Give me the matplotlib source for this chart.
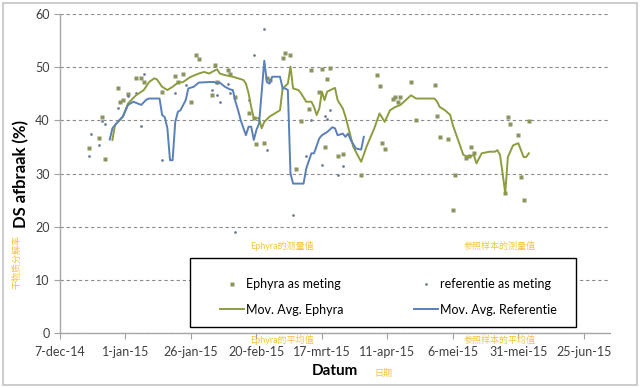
import matplotlib
matplotlib.use("Agg")
import matplotlib.pyplot as plt
import matplotlib.patches as mpatches
import pandas as pd

plt.rcParams['font.family'] = ['Lato', 'Noto Sans CJK SC', 'DejaVu Sans']

# day offsets from 7-dec-14, values in %
start = pd.Timestamp('2014-12-07')

eph_ma_day = [20, 21, 24, 26, 29, 32, 34, 36, 37, 39, 41, 43, 45, 47, 49, 50, 53, 55, 57, 58,
              60, 61, 63, 66, 68, 70, 71, 72, 73, 74, 76, 77, 78, 80, 82, 84, 85, 87, 88, 89,
              91, 92, 94, 96, 97, 98, 99, 100, 101, 102, 105, 106, 108, 109, 110, 112, 114, 115,
              117, 120, 122, 124, 126, 128, 130, 132, 134, 136, 138, 143, 144, 145, 147, 149,
              150, 152, 154, 156, 158, 159, 161, 164, 166, 167, 168, 169, 170, 171, 173, 175,
              176, 177, 178, 179]
eph_ma_val = [36.3, 39.1, 40.7, 43.2, 44.7, 45.7, 47.2, 47.9, 47.7, 46.3, 45.7, 46.3, 47.1, 47.2,
              47.9, 48.2, 48.8, 49.1, 48.8, 49.1, 49.6, 48.8, 48.5, 48.2, 47.9, 47.6, 46.9, 45.1,
              42.5, 40.4, 40.4, 38.5, 39.7, 40.7, 41.3, 41.9, 46.0, 46.9, 50.1, 46.0, 45.7, 45.1,
              43.5, 43.5, 42.5, 41.0, 42.2, 45.4, 43.8, 45.4, 46.1, 43.8, 42.2, 40.7, 38.8, 35.0,
              33.1, 32.2, 35.0, 38.5, 41.3, 39.7, 41.9, 42.5, 42.9, 43.8, 44.7, 44.1, 44.1, 44.1,
              43.5, 42.5, 41.9, 41.0, 39.1, 36.3, 33.5, 33.1, 33.5, 31.9, 33.8, 34.1, 34.1, 34.4,
              33.5, 30.0, 26.3, 33.1, 35.3, 35.7, 34.4, 33.1, 33.1, 33.8]

ref_ma_day = [19, 20, 22, 24, 26, 28, 31, 33, 34, 38, 39, 40, 41, 42, 43, 44, 45, 46, 48, 49,
              51, 53, 57, 59, 60, 61, 63, 65, 66, 67, 68, 69, 71, 72, 73, 74, 75, 76, 78, 79,
              80, 81, 84, 85, 86, 87, 88, 89, 93, 94, 96, 97, 99, 100, 102, 104, 105, 106, 108,
              109, 110, 111, 113, 115, 116]
ref_ma_val = [36.4, 38.5, 39.7, 40.7, 42.9, 43.5, 42.9, 43.9, 44.1, 44.1, 41.0, 40.6, 38.5, 32.5,
              32.5, 39.7, 41.6, 41.9, 43.8, 46.0, 46.3, 47.1, 47.2, 47.2, 46.9, 47.1, 46.3, 45.8,
              45.7, 43.5, 41.9, 40.0, 37.2, 38.8, 38.8, 36.3, 38.2, 39.4, 51.2, 47.2, 46.9, 48.2,
              48.2, 46.0, 46.0, 45.7, 30.0, 28.1, 28.1, 30.9, 33.8, 33.8, 36.6, 37.2, 37.8, 38.7,
              38.5, 37.2, 37.5, 36.9, 37.5, 36.3, 34.7, 34.5, 36.9]

eph_pt_day = [11, 15, 16, 17, 22, 23, 24, 26, 29, 31, 32, 39, 44, 45, 47, 50, 52, 53, 58, 59,
              60, 64, 65, 67, 72, 74, 75, 78, 79, 80, 85, 86, 88, 90, 92, 95, 96, 99, 100, 101,
              102, 103, 106, 108, 115, 121, 122, 123, 124, 127, 128, 129, 130, 134, 136, 143,
              144, 145, 148, 150, 151, 155, 156, 157, 158, 170, 171, 172, 175, 176, 177, 179]
eph_pt_val = [34.8, 36.7, 40.7, 32.8, 46.1, 43.5, 43.8, 44.9, 48.0, 48.0, 47.3, 45.4, 48.4, 47.3,
              48.8, 43.5, 52.3, 51.6, 44.7, 50.4, 47.2, 49.4, 48.8, 44.3, 41.3, 40.5, 35.5, 35.8,
              47.9, 47.6, 51.8, 52.6, 52.3, 30.9, 39.8, 42.2, 49.4, 45.4, 49.6, 34.9, 47.7, 49.9,
              33.3, 33.6, 29.8, 48.5, 46.4, 35.8, 34.7, 44.0, 44.4, 43.5, 44.4, 47.2, 40.0, 46.6,
              40.8, 36.8, 36.5, 23.2, 29.8, 33.0, 33.3, 34.9, 33.9, 26.3, 40.7, 39.3, 37.2, 29.4,
              25.0, 39.8]

ref_pt_day = [11, 12, 15, 16, 17, 22, 26, 29, 31, 32, 39, 44, 48, 58, 60, 61, 64, 65, 67, 72,
              74, 78, 79, 89, 94, 96, 100, 101, 102, 103, 106, 108]
ref_pt_val = [33.2, 37.4, 35.3, 39.9, 39.3, 42.3, 44.6, 45.1, 38.9, 48.8, 32.5, 45.2, 46.7, 45.7,
              44.7, 43.5, 46.9, 45.1, 19.0, 43.8, 52.3, 57.2, 34.5, 22.2, 33.3, 40.0, 31.6, 40.8,
              40.3, 41.9, 29.8, 31.4]

tick_dates = ['2014-12-07', '2015-01-01', '2015-01-26', '2015-02-20', '2015-03-17',
              '2015-04-11', '2015-05-06', '2015-05-31', '2015-06-25']
tick_labels = ['7-dec-14', '1-jan-15', '26-jan-15', '20-feb-15', '17-mrt-15',
               '11-apr-15', '6-mei-15', '31-mei-15', '25-jun-15']
y_ticks = [0, 10, 20, 30, 40, 50, 60]


def to_dates(days):
    return start + pd.to_timedelta(days, unit='D')


fig = plt.figure(figsize=(6.4, 3.88), dpi=100)
ax = fig.add_axes([60 / 640, 55 / 388, 550 / 640, 319 / 388])

green = '#8f9b3f'
blue = '#5a80b8'

p1, = ax.plot(to_dates(eph_pt_day), eph_pt_val, ls='none', marker='s', ms=2.6,
              color='#8a9560', mec='none', label='Ephyra as meting')
p3, = ax.plot(to_dates(ref_pt_day), ref_pt_val, ls='none', marker='o', ms=2.0,
              color='#6c7f98', mec='none', label='referentie as meting')
p2, = ax.plot(to_dates(eph_ma_day), eph_ma_val, color=green, lw=1.4, label='Mov. Avg. Ephyra')
p4, = ax.plot(to_dates(ref_ma_day), ref_ma_val, color=blue, lw=1.4, label='Mov. Avg. Referentie')

ax.set_xlim(start, start + pd.Timedelta(days=210))
ax.set_ylim(0, 60)
ax.set_xticks(pd.to_datetime(tick_dates))
ax.set_xticklabels(tick_labels)
ax.set_yticks(y_ticks)
ax.tick_params(axis='both', labelsize=9, colors='#404040', length=4, width=0.8, direction='out')
ax.tick_params(axis='both', color='#a0a0a0')
ax.tick_params(axis='x', pad=5)

for s in ['top', 'right']:
    ax.spines[s].set_visible(False)
for s in ['left', 'bottom']:
    ax.spines[s].set_color('#a6a6a6')
    ax.spines[s].set_linewidth(1.0)

ax.yaxis.grid(True, color='#8c8c8c', lw=0.8, ls=(0, (3, 2.5)))
ax.set_axisbelow(True)

ax.set_ylabel('DS afbraak (%)', fontsize=12, fontweight='bold')
ax.yaxis.set_label_coords(-0.056, 0.5)
ax.set_xlabel('Datum', fontsize=11, fontweight='bold')
ax.xaxis.set_label_coords(0.5, -0.098)

# legend box
box = mpatches.Rectangle((190 / 640, 61 / 388), 386 / 640, 69 / 388, transform=fig.transFigure,
                         facecolor='white', edgecolor='black', lw=1.0, zorder=5, clip_on=False)
ax.add_artist(box)
leg = ax.legend(handles=[p1, p2, p3, p4], ncol=2, loc='upper left', frameon=False,
                bbox_to_anchor=(220 / 640, (388 - 278) / 388), bbox_transform=fig.transFigure,
                fontsize=9, handlelength=1.9, handletextpad=0.15, labelspacing=1.1,
                columnspacing=5.7, borderpad=0, borderaxespad=0)
leg.set_zorder(6)

# chinese annotations
yellow = '#f3c63a'
fig.text(282 / 640, 1 - 246 / 388, 'Ephyra的测量值', color=yellow, fontsize=6.5, ha='center', va='center')
fig.text(500 / 640, 1 - 246 / 388, '参照样本的测量值', color=yellow, fontsize=6.5, ha='center', va='center')
fig.text(282 / 640, 1 - 340 / 388, 'Ephyra的平均值', color=yellow, fontsize=6.5, ha='center', va='center')
fig.text(500 / 640, 1 - 340 / 388, '参照样本的平均值', color=yellow, fontsize=6.5, ha='center', va='center')
fig.text(383 / 640, 1 - 373 / 388, '日期', color=yellow, fontsize=6.5, ha='center', va='center')
fig.text(17 / 640, 1 - 262 / 388, '干物质分解率', color=yellow, fontsize=6.5, ha='center', va='center',
         rotation=90)

# chart area border
fig.patches.append(mpatches.Rectangle((3 / 640, 3 / 388), 634 / 640, 382 / 388,
                                      transform=fig.transFigure, facecolor='none',
                                      edgecolor='#c4c4c4', lw=1.2))

fig.savefig('out.png', dpi=100)
